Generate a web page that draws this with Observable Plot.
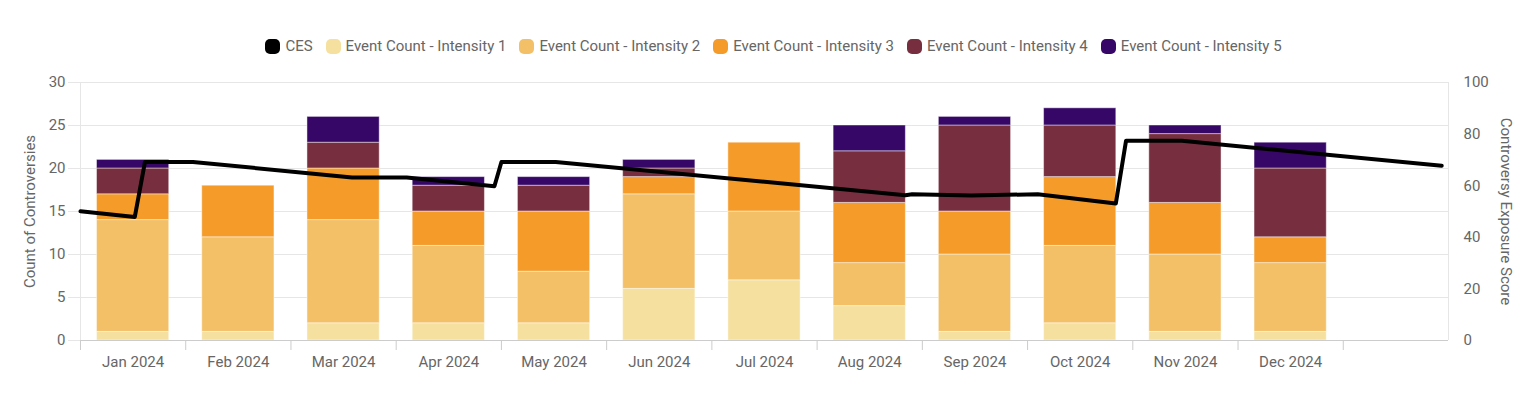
<!DOCTYPE html>
<html><head><meta charset="utf-8">
<script src="https://cdn.jsdelivr.net/npm/d3@7"></script>
<script src="https://cdn.jsdelivr.net/npm/@observablehq/plot@0.6"></script>
<style>
body{margin:0;background:#fff;font-family:Roboto,sans-serif;}
#legend{height:64px;display:flex;justify-content:center;align-items:flex-start;padding-top:37px;padding-left:12px;box-sizing:border-box;font-size:15px;color:#666;line-height:18px;}
.item{display:flex;align-items:center;margin:0 6.5px;white-space:nowrap;}
.sw{width:15px;height:15px;border-radius:5px;margin-right:5px;display:inline-block;}
svg{display:block;}
</style></head>
<body>
<div id="legend"></div>
<div id="chart"></div>
<script>
const months = ["Jan 2024","Feb 2024","Mar 2024","Apr 2024","May 2024","Jun 2024","Jul 2024","Aug 2024","Sep 2024","Oct 2024","Nov 2024","Dec 2024"];
const seriesNames = ["Event Count - Intensity 1","Event Count - Intensity 2","Event Count - Intensity 3","Event Count - Intensity 4","Event Count - Intensity 5"];
const seriesColors = ["#f5e0a0","#f3c068","#f49b2a","#772e3f","#360766"];
const intensity1 = [1,1,2,2,2,6,7,4,1,2,1,1];
const intensity2 = [13,11,12,9,6,11,8,5,9,9,9,8];
const intensity3 = [3,6,6,4,7,2,8,7,5,8,6,3];
const intensity4 = [3,0,3,3,3,1,0,6,10,6,8,8];
const intensity5 = [1,0,3,1,1,1,0,3,1,2,1,3];
const cesDates = ["2024-01-01","2024-01-17","2024-01-20","2024-02-03","2024-03-19","2024-04-04","2024-04-29","2024-05-01","2024-05-17","2024-08-27","2024-08-29","2024-09-15","2024-10-04","2024-10-27","2024-10-30","2024-11-15","2025-01-30"];
const cesValues = [50.1,47.9,69.2,69.2,63.2,63.2,59.8,69.2,69.2,56.3,56.7,56.2,56.7,53.1,77.4,77.4,67.7];
const leftTicks = [0,5,10,15,20,25,30];
const rightTicks = [0,20,40,60,80,100];
const leftTitle = "Count of Controversies";
const rightTitle = "Controversy Exposure Score";
const cesName = "CES";

// legend
const legend = document.getElementById("legend");
[[cesName,"#000"], ...seriesNames.map((s,k)=>[s,seriesColors[k]])].forEach(([name,col])=>{
  const it = document.createElement("div"); it.className="item";
  const sw = document.createElement("span"); sw.className="sw"; sw.style.background=col;
  it.appendChild(sw); it.appendChild(document.createTextNode(name));
  legend.appendChild(it);
});

const values = [intensity1,intensity2,intensity3,intensity4,intensity5];
const table = months.flatMap((m,i)=>seriesNames.map((s,k)=>({i, month:m, series:s, value:values[k][i]})));
const scale = 30/100;
function toIndex(str){
  const d = new Date(str+"T00:00:00Z");
  const mi = (d.getUTCFullYear()-2024)*12 + d.getUTCMonth();
  const dim = new Date(Date.UTC(d.getUTCFullYear(), d.getUTCMonth()+1, 0)).getUTCDate();
  return mi + (d.getUTCDate()-1)/dim;
}
const ces = cesDates.map((d,j)=>({x: toIndex(d), v: cesValues[j]}));

const chart = Plot.plot({
  width: 1535, height: 333,
  marginTop: 18, marginBottom: 57, marginLeft: 80, marginRight: 87,
  x: {domain: [0, 13]},
  y: {domain: [0, 30]},
  color: {domain: seriesNames, range: seriesColors},
  style: {fontFamily: "Roboto, sans-serif", fontSize: "15px", color: "#666", background: "#fff"},
  marks: [
    Plot.ruleY(leftTicks, {stroke: "#e6e6e6", insetLeft: -12}),
    Plot.ruleX([0, 13], {stroke: "#e6e6e6"}),
    Plot.rectY(table, Plot.stackY({x1: d=>d.i, x2: d=>d.i+1, y: "value", fill: "series", insetLeft: 16.5, insetRight: 16.5, stroke: "#fff", strokeOpacity: 0.45, strokeWidth: 1})),
    Plot.ruleY([0], {stroke: "#ccc"}),
    Plot.axisX(d3.range(13), {tickSize: 10, tickFormat: () => "", stroke: "#ccc", label: null}),
    Plot.text(months, {x: (d,i)=>i+0.5, frameAnchor: "bottom", dy: 26, fill: "#666", fontSize: 15}),
    Plot.axisY(leftTicks, {tickSize: 0, tickPadding: 15, fill: "#666", label: null}),
    Plot.axisY(rightTicks.map(v=>v*scale), {anchor: "right", tickSize: 0, tickPadding: 15, fill: "#666", label: null, tickFormat: d => Math.round(d/scale)}),
    Plot.text([leftTitle], {frameAnchor: "left", textAnchor: "middle", rotate: -90, dx: -50, fill: "#666", fontSize: 15}),
    Plot.text([rightTitle], {frameAnchor: "right", textAnchor: "middle", rotate: 90, dx: 57, fill: "#666", fontSize: 15}),
    Plot.line(ces, {x: "x", y: d => d.v*scale, stroke: "#000", strokeWidth: 4, strokeLinejoin: "round", strokeLinecap: "round"})
  ]
});
document.getElementById("chart").appendChild(chart);
</script>
</body></html>
